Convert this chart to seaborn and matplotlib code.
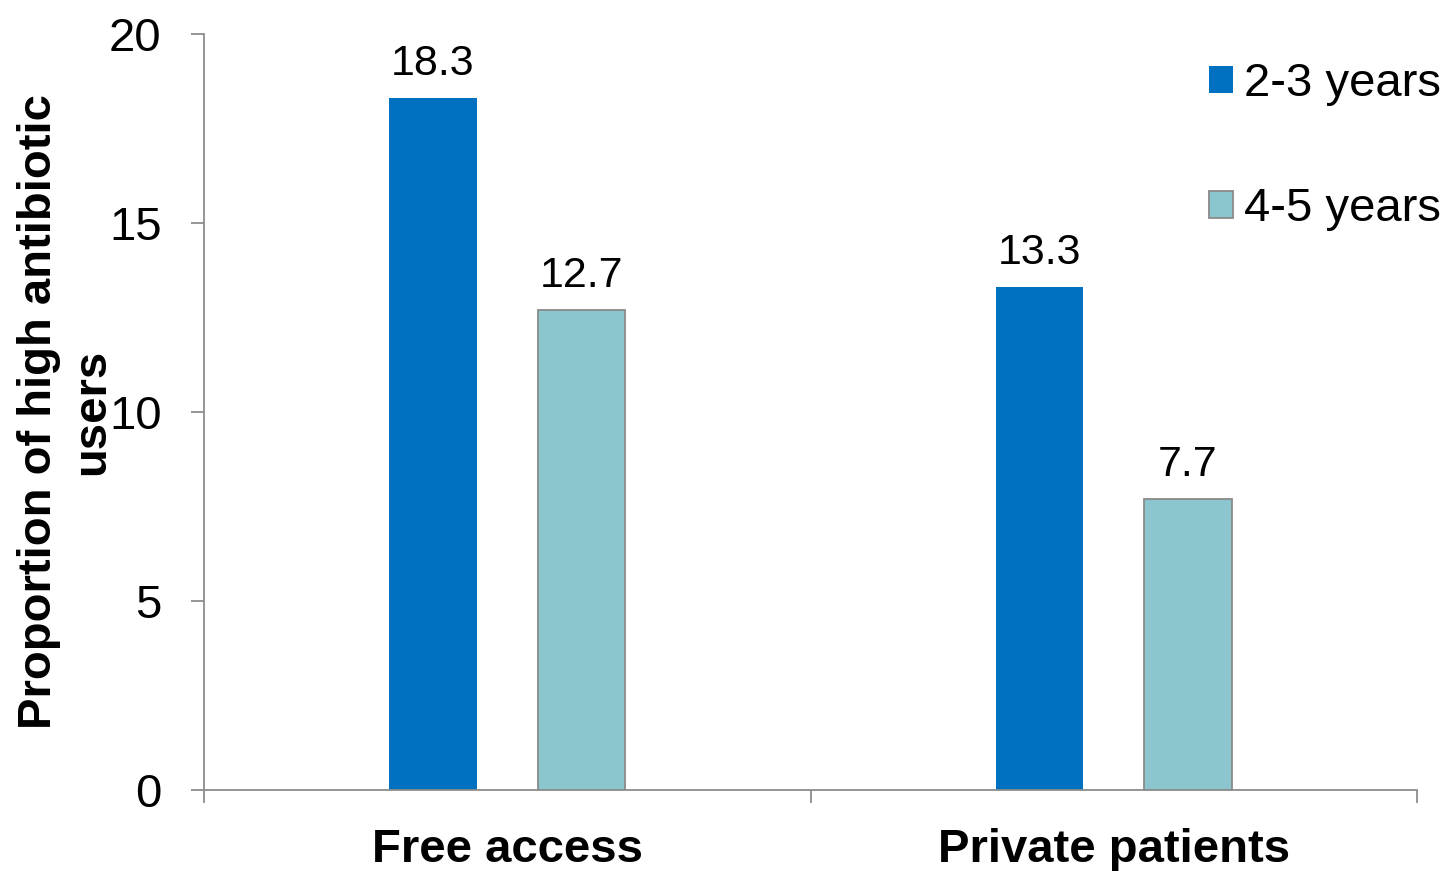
import matplotlib
matplotlib.use("Agg")
import matplotlib.pyplot as plt
import seaborn as sns
import pandas as pd
from matplotlib.ticker import FixedLocator

categories = ["Free access", "Private patients"]
age_groups = ["2-3 years", "4-5 years"]
values_2_3 = [18.3, 13.3]
values_4_5 = [12.7, 7.7]
y_ticks = [0, 5, 10, 15, 20]

colors = ["#0070C0", "#8BC5CD"]
spine_gray = "#8C8C8C"
edge_gray = "#8A8A8A"

df = pd.DataFrame({
    "access": categories * 2,
    "age": [age_groups[0]] * 2 + [age_groups[1]] * 2,
    "value": values_2_3 + values_4_5,
})

sns.set_style("white")
plt.rcParams["font.family"] = ["Liberation Sans", "DejaVu Sans"]
plt.rcParams["text.color"] = "black"
plt.rcParams["xtick.color"] = "black"
plt.rcParams["ytick.color"] = "black"
plt.rcParams["axes.labelcolor"] = "black"

fig = plt.figure(figsize=(14.47, 8.71), dpi=100)
ax = fig.add_axes([204 / 1447, 1 - 790 / 871, (1417 - 204) / 1447, (790 - 34) / 871])

sns.barplot(data=df, x="access", y="value", hue="age", hue_order=age_groups,
            order=categories, palette=colors, width=0.49, gap=0.41,
            saturation=1, errorbar=None, ax=ax, legend=True)

# outline only the light bars
for bar in ax.containers[1]:
    bar.set_edgecolor(edge_gray)
    bar.set_linewidth(1.3)
for bar in ax.containers[0]:
    bar.set_linewidth(0)

for cont in ax.containers:
    ax.bar_label(cont, fmt="%.1f", padding=10, fontsize=31, color="black")

ax.set_xlim(-0.5, 1.5)
ax.set_ylim(0, 20)
ax.set_yticks(y_ticks)
ax.set_xticks(range(len(categories)))
ax.set_xticklabels(categories, fontsize=34, fontweight="bold")
ax.xaxis.set_minor_locator(FixedLocator([-0.5, 0.5, 1.5]))
ax.tick_params(axis="x", which="major", bottom=True, length=0, pad=27)
ax.tick_params(axis="x", which="minor", bottom=True, length=9, width=1.3,
               color=spine_gray, direction="out")
ax.tick_params(axis="y", which="major", left=True, length=9.5, width=1.3,
               color=spine_gray, labelcolor="black", direction="out",
               labelsize=34, pad=21)

for side in ["top", "right"]:
    ax.spines[side].set_visible(False)
for side in ["left", "bottom"]:
    ax.spines[side].set_color(spine_gray)
    ax.spines[side].set_linewidth(1.3)

ax.set_xlabel("")
ax.set_ylabel("Proportion of high antibiotic\nusers", fontsize=34, fontweight="bold",
              linespacing=1.25)
ax.yaxis.set_label_coords(-0.0745, 0.5)

handles, labels = ax.get_legend_handles_labels()
ax.get_legend().remove()
leg = ax.legend(handles, labels, loc="upper left", bbox_to_anchor=(1209 / 1447, 1 - 62 / 871),
                bbox_transform=fig.transFigure, frameon=False, fontsize=34,
                handlelength=0.5, handleheight=0.5, handletextpad=0.25,
                labelspacing=1.72, borderpad=0, borderaxespad=0)
leg.legend_handles[0].set_linewidth(0)
leg.legend_handles[1].set_edgecolor(edge_gray)
leg.legend_handles[1].set_linewidth(1.3)

fig.savefig("out.png", dpi=100)
